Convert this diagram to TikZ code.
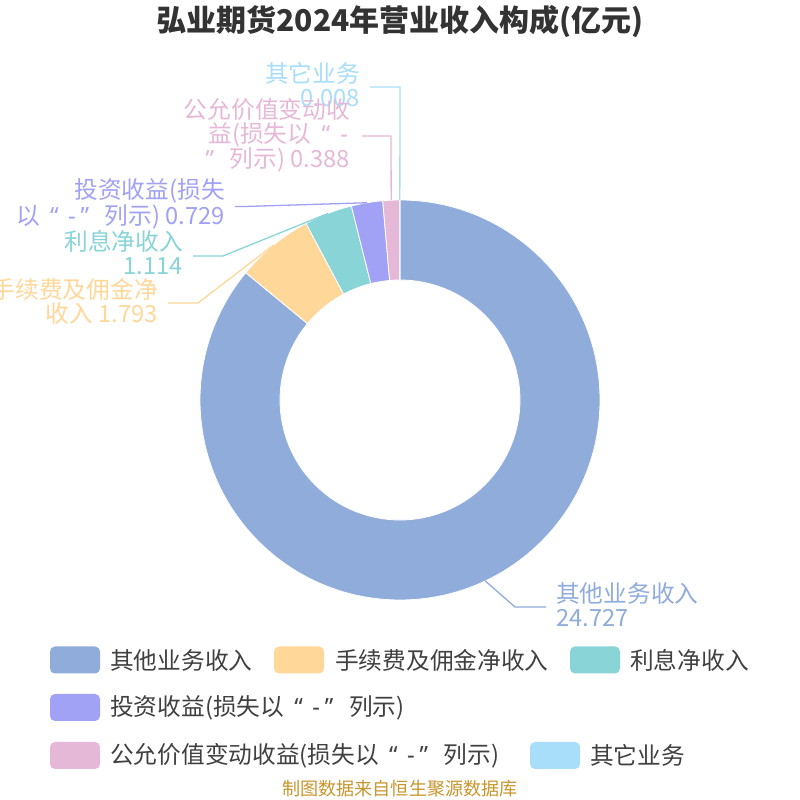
\documentclass[tikz,border=0pt]{standalone}
\usepackage{fontspec}
\setmainfont{Noto Sans CJK SC}
\newfontfamily\qf{Noto Sans}
\usetikzlibrary{calc}
\definecolor{cBlue}{HTML}{8FACDB}
\definecolor{cYellow}{HTML}{FFD899}
\definecolor{cTeal}{HTML}{88D4D7}
\definecolor{cPurple}{HTML}{A1A1F5}
\definecolor{cPink}{HTML}{E6B8D8}
\definecolor{cLight}{HTML}{A8DEFA}
\definecolor{cTitle}{HTML}{333333}
\definecolor{cLegend}{HTML}{404040}
\definecolor{cFoot}{HTML}{C8962E}
% quote sequence set as the reference shows it: wide cells round the quotes
\newcommand{\qLeft}{\makebox[1.224em][c]{\qf “}}
\newcommand{\qDash}{\makebox[0.253em][c]{\qf -}}
\newcommand{\qDashEnd}{\makebox[0.4em][l]{\qf -}}
\newcommand{\qRight}{\makebox[0.844em][c]{\qf ”}\hspace{0.42em}}
\newcommand{\qSeq}{\qLeft\qDash\qRight}
\tikzset{
  lbl/.style={inner sep=0pt, font=\fontsize{23.7}{24}\selectfont, align=right},
  lbltext/.style={inner sep=0pt, font=\fontsize{23.7}{24}\selectfont, text=cLegend, anchor=west},
  legbox/.style={rounded corners=5pt, minimum width=50pt, minimum height=27pt, inner sep=0pt},
  leader/.style={line width=1.3pt},
  slice/.style={draw=white, line width=0.8pt, line join=round}
}
\newcommand{\myslice}[3]{%
  \fill[#3, slice] ([shift={(#1:120)}]C) -- ([shift={(#1:200)}]C)
    arc[start angle=#1, end angle=#2, radius=200]
    -- ([shift={(#2:120)}]C)
    arc[start angle=#2, end angle=#1, radius=120] -- cycle;}
\begin{document}
\begin{tikzpicture}[x=1pt,y=1pt]
\useasboundingbox (0,0) rectangle (800,800);
\fill[white] (0,0) rectangle (800,800);
\coordinate (C) at (400,400);
% title
\node[inner sep=0pt, font=\bfseries\fontsize{30}{32}\selectfont, text=cTitle] (title) at (400,778) {弘业期货2024年营业收入构成(亿元)};
% slices
\myslice{90}{-219.53}{cBlue}
\myslice{-219.53}{-241.97}{cYellow}
\myslice{-241.97}{-255.92}{cTeal}
\myslice{-255.92}{-265.04}{cPurple}
\myslice{-265.04}{-269.90}{cPink}
\myslice{-269.90}{-270}{cLight}
% leader anchor points
\coordinate (eBlue) at ([shift={(-64.77:200)}]C);
\coordinate (eYellow) at ([shift={(129.25:200)}]C);
\coordinate (eTeal) at ([shift={(111.06:200)}]C);
\coordinate (ePurple) at ([shift={(99.52:200)}]C);
\coordinate (ePink) at ([shift={(92.53:200)}]C);
\coordinate (eLight) at ([shift={(90.05:200)}]C);
% labels
\node[lbl, text=cLight, anchor=east] (tLight) at (360,715) {其它业务\\0.008};
\node[lbl, text=cPink, anchor=east] (tPink) at (350,665) {公允价值变动收\\益(损失以\qLeft\qDashEnd\\\qRight{}列示) 0.388};
\node[lbl, text=cPurple, anchor=east] (tPurple) at (225,596) {投资收益(损失\\以\qSeq{}列示) 0.729};
\node[lbl, text=cTeal, anchor=east] (tTeal) at (183,547) {利息净收入\\1.114};
\node[lbl, text=cYellow, anchor=east] (tYellow) at (158,498.5) {手续费及佣金净\\收入 1.793};
\node[lbl, text=cBlue, anchor=west, align=left] (tBlue) at (556,195.5) {其他业务收入\\24.727};
% leader lines
\coordinate (kLight) at (400,713);
\coordinate (kPink) at (391,664);
\coordinate (kPurple) at (245,593.5);
\coordinate (kTeal) at (223,544);
\coordinate (kYellow) at (198,497);
\coordinate (kBlue) at (515,193);
\draw[leader, cLight] (eLight) -- (kLight) -- ($(tLight.east)+(10,-2)$);
\draw[leader, cPink] (ePink) -- (kPink) -- ($(tPink.east)+(12,-1)$);
\draw[leader, cPurple] (ePurple) -- (kPurple) -- ($(tPurple.east)+(10,-2.5)$);
\draw[leader, cTeal] (eTeal) -- (kTeal) -- ($(tTeal.east)+(10,-3)$);
\draw[leader, cYellow] (eYellow) -- (kYellow) -- ($(tYellow.east)+(10,-1.5)$);
\draw[leader, cBlue] (eBlue) -- (kBlue) -- ($(tBlue.west)+(-10,-2.5)$);
% legend
\node[legbox, fill=cBlue] (b1) at (75,140) {};
\node[lbltext] (l1) at (110,140) {其他业务收入};
\node[legbox, fill=cYellow] (b2) at (299,140) {};
\node[lbltext] (l2) at (335,140) {手续费及佣金净收入};
\node[legbox, fill=cTeal] (b3) at (595,140) {};
\node[lbltext] (l3) at (630,140) {利息净收入};
\node[legbox, fill=cPurple] (b4) at (75,92.5) {};
\node[lbltext] (l4) at (110,92.5) {投资收益(损失以\qSeq{}列示)};
\node[legbox, fill=cPink] (b5) at (75,44.5) {};
\node[lbltext] (l5) at (110,44.5) {公允价值变动收益(损失以\qSeq{}列示)};
\node[legbox, fill=cLight] (b6) at (555,44.5) {};
\node[lbltext] (l6) at (590,44.5) {其它业务};
% footer
\node[inner sep=0pt, font=\fontsize{18.1}{20}\selectfont, text=cFoot] (foot) at (400,11) {制图数据来自恒生聚源数据库};
\end{tikzpicture}
\end{document}
